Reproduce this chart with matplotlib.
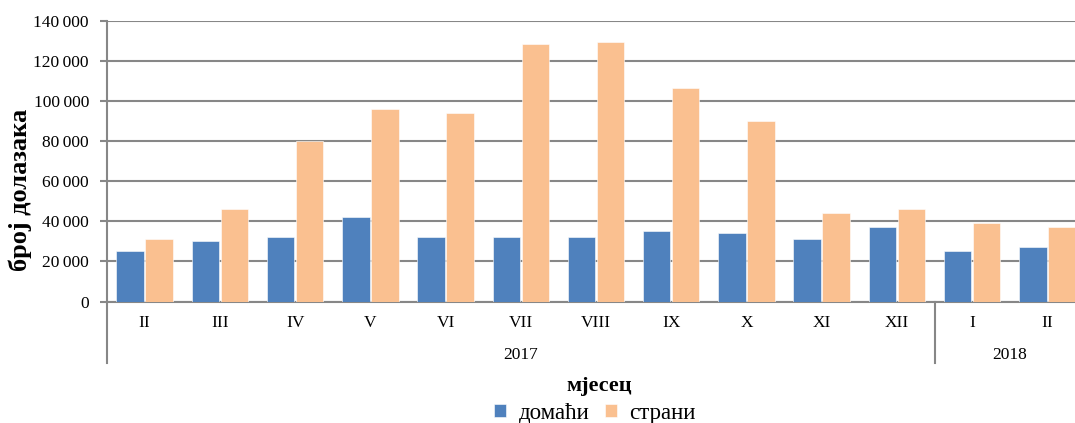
import numpy as np
import matplotlib.pyplot as plt
from matplotlib.transforms import blended_transform_factory

months = ['II', 'III', 'IV', 'V', 'VI', 'VII', 'VIII', 'IX', 'X', 'XI', 'XII', 'I', 'II']
years = ['2017', '2018']
year_start = [0, 11]   # first month index of each year
year_end = [11, 13]
domaci = [25000, 30000, 32000, 42000, 32000, 32000, 32000, 35000, 34000, 31000, 37000, 25000, 27000]
strani = [31000, 46000, 80000, 96000, 94000, 128500, 129500, 106500, 90000, 44000, 46000, 39000, 37000]

plt.rcParams['font.family'] = ['Liberation Serif', 'DejaVu Serif']

blue = '#4F81BD'
orange = '#FAC090'
grid = '#878787'

fig = plt.figure(figsize=(10.75, 4.23), dpi=100)
ax = fig.add_axes([107 / 1075, 1 - 301.5 / 423, 978 / 1075, 280.5 / 423])

x = np.arange(len(months))
w = 0.365
ax.bar(x - 0.193, domaci, w, color=blue, edgecolor='white', linewidth=0.4, zorder=3, label='домаћи')
ax.bar(x + 0.193, strani, w, color=orange, edgecolor='white', linewidth=0.4, zorder=3, label='страни')

ax.set_xlim(-0.5, len(months) - 0.5)
ax.set_ylim(0, 140000)
yt = np.arange(0, 140001, 20000)
ax.set_yticks(yt)
ax.set_yticklabels(['{:,}'.format(v).replace(',', '\u2009') for v in yt], fontsize=12.5)
ax.yaxis.grid(True, color=grid, linewidth=1.5, zorder=0)
ax.tick_params(axis='y', length=5, width=1.5, color=grid, pad=8)
ax.set_xticks([])

for s in ['top', 'right']:
    ax.spines[s].set_visible(False)
ax.spines['left'].set_color(grid)
ax.spines['left'].set_linewidth(1.5)
ax.spines['bottom'].set_color(grid)
ax.spines['bottom'].set_linewidth(1.5)

tr = blended_transform_factory(ax.transData, ax.transAxes)
for i, m in enumerate(months):
    ax.text(i, -0.076, m, transform=tr, ha='center', va='center', fontsize=12.5)

for y, a, b in zip(years, year_start, year_end):
    ax.text((a + b - 1) / 2, -0.19, y, transform=tr, ha='center', va='center', fontsize=12.5)
for b in [-0.5, 10.5]:
    ax.plot([b, b], [0, -0.22], transform=tr, color=grid, linewidth=1.5, clip_on=False)

fig.text(20 / 1075, 1 - 190 / 423, 'број долазака', rotation=90, ha='center', va='center',
         fontsize=19, fontweight='bold')
fig.text(599 / 1075, 1 - 386 / 423, 'мјесец', ha='center', va='center', fontsize=16, fontweight='bold')

ax.legend(loc='center', bbox_to_anchor=(595 / 1075, 1 - 413 / 423), bbox_transform=fig.transFigure,
          ncol=2, frameon=False, fontsize=16.5, handlelength=0.5, handleheight=0.5,
          handletextpad=0.55, columnspacing=0.7, borderpad=0)

fig.savefig('out.png', dpi=100)
